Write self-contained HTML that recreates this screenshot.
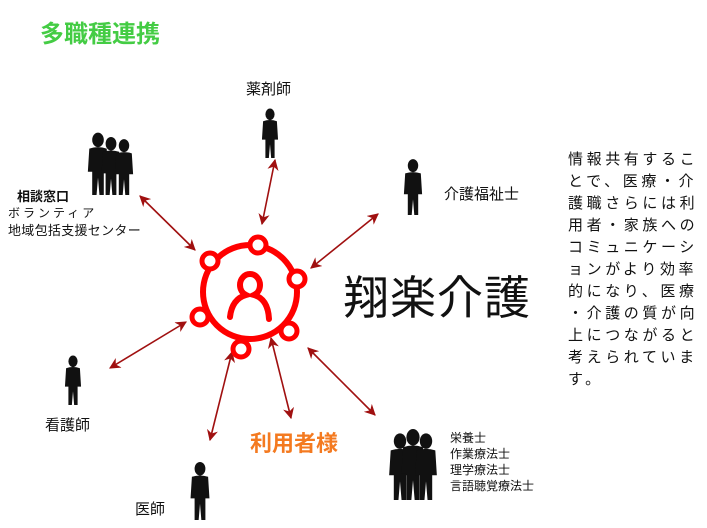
<!DOCTYPE html><html><head><meta charset="utf-8"><style>
body{margin:0;width:707px;height:528px;background:#fff;overflow:hidden;font-family:"Liberation Sans","Noto Sans CJK JP",sans-serif;position:relative}
.t{position:absolute;white-space:nowrap;color:#111}
</style></head><body>
<svg width="707" height="528" style="position:absolute;left:0;top:0">
<defs><marker id="a" viewBox="0 0 10 10" refX="9" refY="5" markerWidth="7" markerHeight="7" orient="auto-start-reverse"><path d="M0,0 L10,5 L0,10 L3,5z" fill="#a01010"/></marker>
<g id="p"><ellipse cx="0" cy="-38" rx="4" ry="5"/><path d="M-6,-32 Q0,-34 6,-32 L7,-16 L4,-16 L4,0 L1,0 L0,-12 L-1,0 L-4,0 L-4,-16 L-7,-16Z"/></g></defs>
<g stroke="#a01010" stroke-width="1.6" marker-start="url(#a)" marker-end="url(#a)">
<line x1="195" y1="250" x2="140" y2="196"/><line x1="262" y1="224" x2="275" y2="160"/>
<line x1="311" y1="268" x2="378" y2="214"/><line x1="186" y1="322" x2="110" y2="368"/>
<line x1="232" y1="352" x2="210" y2="440"/><line x1="271" y1="338" x2="291" y2="418"/>
<line x1="308" y1="348" x2="375" y2="415"/></g>
<g fill="none" stroke="#f00" stroke-width="6" stroke-linecap="round">
<circle cx="250" cy="292" r="47"/>
<path d="M240,285 a10,11 0 1 1 20,0 a10,11 0 0 1 -6,10 q14,4 15,24 M240,285 a10,11 0 0 0 6,10 q-14,4 -16,22"/>
</g>
<g fill="#fff" stroke="#f00" stroke-width="5">
<circle cx="258" cy="245" r="8"/><circle cx="210" cy="261" r="8"/><circle cx="297" cy="279" r="8"/>
<circle cx="200" cy="317" r="8"/><circle cx="289" cy="331" r="8"/><circle cx="241" cy="349" r="8"/></g>
<g fill="#111">
<use href="#p" transform="translate(98,195) scale(1.45)"/><use href="#p" transform="translate(111,195) scale(1.35)"/><use href="#p" transform="translate(124,195) scale(1.3)"/>
<use href="#p" transform="translate(270,158) scale(1.15)"/>
<use href="#p" transform="translate(413,215) scale(1.3)"/>
<use href="#p" transform="translate(73,405) scale(1.15)"/>
<use href="#p" transform="translate(200,520) scale(1.35)"/>
<use href="#p" transform="translate(400,500) scale(1.55)"/><use href="#p" transform="translate(413,500) scale(1.65)"/><use href="#p" transform="translate(426,500) scale(1.55)"/>
</g></svg>
<div class="t" style="left:40px;top:14px;font-size:24px;font-weight:bold;color:#4c4">多職種連携</div>
<div class="t" style="left:246px;top:78px;font-size:15px">薬剤師</div>
<div class="t" style="left:444px;top:183px;font-size:15px">介護福祉士</div>
<div class="t" style="left:17px;top:186px;font-size:13px;font-weight:bold">相談窓口</div>
<div class="t" style="left:8px;top:204px;font-size:12px;letter-spacing:3px">ボランティア</div>
<div class="t" style="left:8px;top:220px;font-size:13px;letter-spacing:0.3px">地域包括支援センター</div>
<div class="t" style="left:343px;top:262px;font-size:46px;letter-spacing:1px">翔楽介護</div>
<div class="t" style="left:45px;top:414px;font-size:15px">看護師</div>
<div class="t" style="left:135px;top:498px;font-size:15px">医師</div>
<div class="t" style="left:250px;top:426px;font-size:22px;font-weight:bold;color:#f47a20">利用者様</div>
<div class="t" style="left:450px;top:430px;font-size:12px;line-height:16px">栄養士<br>作業療法士<br>理学療法士<br>言語聴覚療法士</div>
<div class="t" style="left:568px;top:149px;font-size:15px;line-height:22px;letter-spacing:3.6px">情報共有するこ<br>とで、医療・介<br>護職さらには利<br>用者・家族への<br>コミュニケーシ<br>ョンがより効率<br>的になり、医療<br>・介護の質が向<br>上につながると<br>考えられていま<br>す。</div>
</body></html>
